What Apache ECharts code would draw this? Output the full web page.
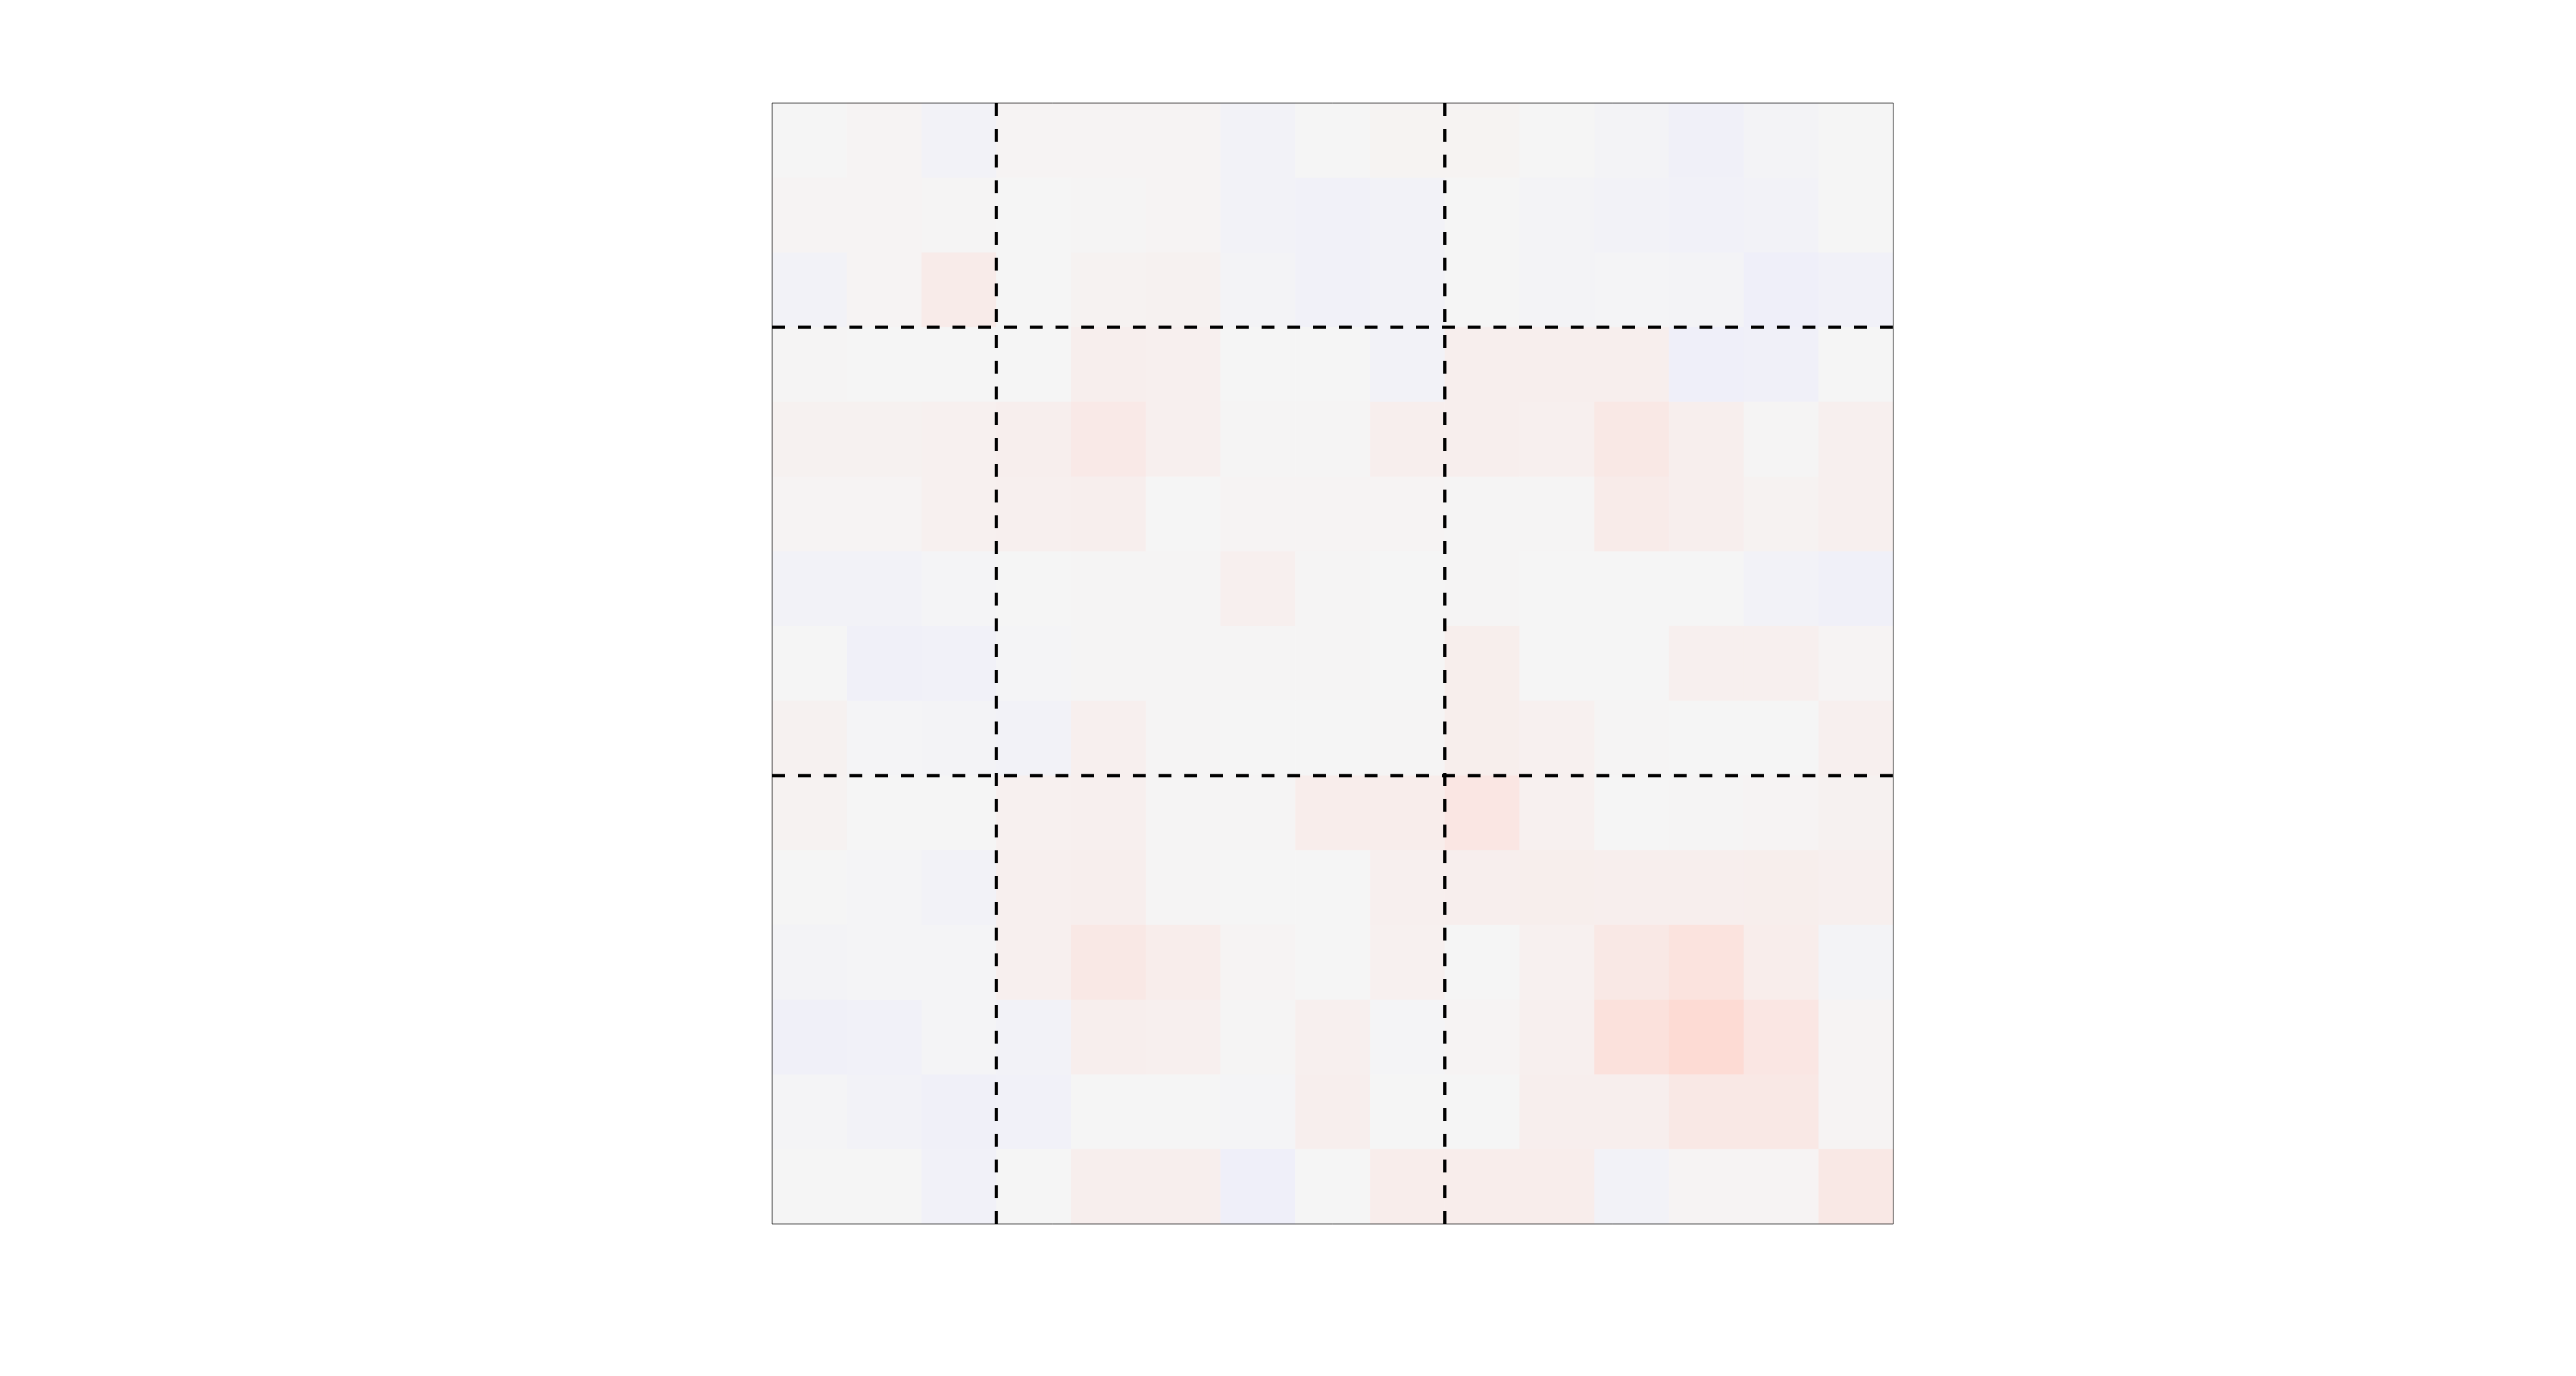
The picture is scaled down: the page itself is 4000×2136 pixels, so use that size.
<!DOCTYPE html>
<html>
<head>
<meta charset="utf-8">
<script src="https://cdn.jsdelivr.net/npm/echarts@6/dist/echarts.min.js"></script>
<style>html,body{margin:0;padding:0;background:#fff;}#c{width:4000px;height:2136px;}</style>
</head>
<body>
<div id="c"></div>
<script>
const xCategories = Array.from({length: 15}, (_, i) => String(i));
const yCategories = Array.from({length: 15}, (_, i) => String(i));
const dividers = [3, 9];
const row0  = [0, 0.1, -0.4, 0.1, 0.1, 0.1, -0.3, 0, 0.15, 0.15, 0, -0.2, -0.6, -0.2, 0];
const row1  = [0.1, 0.1, 0.05, 0, 0.05, 0.1, -0.3, -0.5, -0.3, 0, -0.2, -0.3, -0.5, -0.4, 0];
const row2  = [-0.4, 0.1, 0.6, 0, 0.2, 0.25, -0.2, -0.5, -0.3, 0, -0.2, -0.1, -0.2, -0.7, -0.5];
const row3  = [0.05, 0, 0, 0, 0.4, 0.35, 0, 0, -0.3, 0.4, 0.4, 0.4, -0.7, -0.6, 0];
const row4  = [0.25, 0.25, 0.3, 0.4, 0.7, 0.35, 0.05, 0.05, 0.4, 0.4, 0.35, 0.8, 0.4, 0.05, 0.35];
const row5  = [0.1, 0.1, 0.3, 0.35, 0.4, 0, 0.1, 0.1, 0.1, 0.05, 0.05, 0.6, 0.4, 0.2, 0.35];
const row6  = [-0.3, -0.4, -0.1, 0, 0.05, 0.05, 0.35, 0.05, 0, 0.05, 0, 0, 0, -0.3, -0.6];
const row7  = [0, -0.6, -0.5, -0.1, 0.05, 0.05, 0.05, 0.05, 0, 0.45, 0, 0, 0.35, 0.35, 0.1];
const row8  = [0.25, -0.1, -0.2, -0.3, 0.35, 0.05, 0, 0, 0.05, 0.45, 0.3, 0.05, -0.05, 0, 0.35];
const row9  = [0.2, 0, 0, 0.3, 0.35, 0.05, 0.05, 0.5, 0.5, 0.9, 0.3, 0, 0.05, 0.1, 0.25];
const row10 = [-0.05, -0.1, -0.3, 0.35, 0.4, 0.05, 0, 0, 0.35, 0.4, 0.45, 0.4, 0.4, 0.45, 0.35];
const row11 = [-0.2, -0.1, -0.1, 0.35, 0.8, 0.5, 0.1, 0, 0.3, 0, 0.3, 0.8, 1.1, 0.5, -0.2];
const row12 = [-0.6, -0.5, -0.1, -0.4, 0.4, 0.35, 0.05, 0.35, -0.1, 0.1, 0.35, 1.2, 1.6, 0.9, 0.1];
const row13 = [-0.1, -0.3, -0.6, -0.5, 0, 0, -0.1, 0.4, -0.05, 0, 0.4, 0.4, 0.8, 0.8, 0.1];
const row14 = [0, 0, -0.5, -0.05, 0.4, 0.4, -0.7, 0, 0.5, 0.5, 0.5, -0.3, 0.1, 0.1, 0.8];
const rows = [row0,row1,row2,row3,row4,row5,row6,row7,row8,row9,row10,row11,row12,row13,row14];

const heatData = [];
rows.forEach((r, y) => r.forEach((v, x) => heatData.push([x, y, v])));

const n = xCategories.length;
const lineSeries = [];
dividers.forEach(d => {
  lineSeries.push([[d, 0], [d, n]]);
  lineSeries.push([[0, d], [n, d]]);
});

const chart = echarts.init(document.getElementById('c'));
const gridPos = {left: 1199, top: 160, width: 1741, height: 1740};
chart.setOption({
  animation: false,
  backgroundColor: '#ffffff',
  grid: [
    Object.assign({show: true, borderColor: '#222222', borderWidth: 1, backgroundColor: 'transparent', z: 5}, gridPos),
    Object.assign({show: false}, gridPos)
  ],
  xAxis: [
    {type: 'category', data: xCategories, gridIndex: 0, show: false},
    {type: 'value', min: 0, max: n, gridIndex: 1, show: false}
  ],
  yAxis: [
    {type: 'category', data: yCategories, gridIndex: 0, inverse: true, show: false},
    {type: 'value', min: 0, max: n, gridIndex: 1, inverse: true, show: false}
  ],
  visualMap: {
    show: false, min: -2, max: 2, seriesIndex: 0,
    inRange: {color: ['#e4e4ff', '#f5f5f5', '#ffd4cc']}
  },
  series: [
    {type: 'heatmap', data: heatData, xAxisIndex: 0, yAxisIndex: 0, itemStyle: {borderWidth: 0}, emphasis: {disabled: true}}
  ].concat(lineSeries.map(seg => ({
    type: 'line', data: seg, xAxisIndex: 1, yAxisIndex: 1, symbol: 'none', z: 10,
    lineStyle: {color: '#000000', width: 5, type: [20, 20], cap: 'butt'}
  })))
});
</script>
</body>
</html>
